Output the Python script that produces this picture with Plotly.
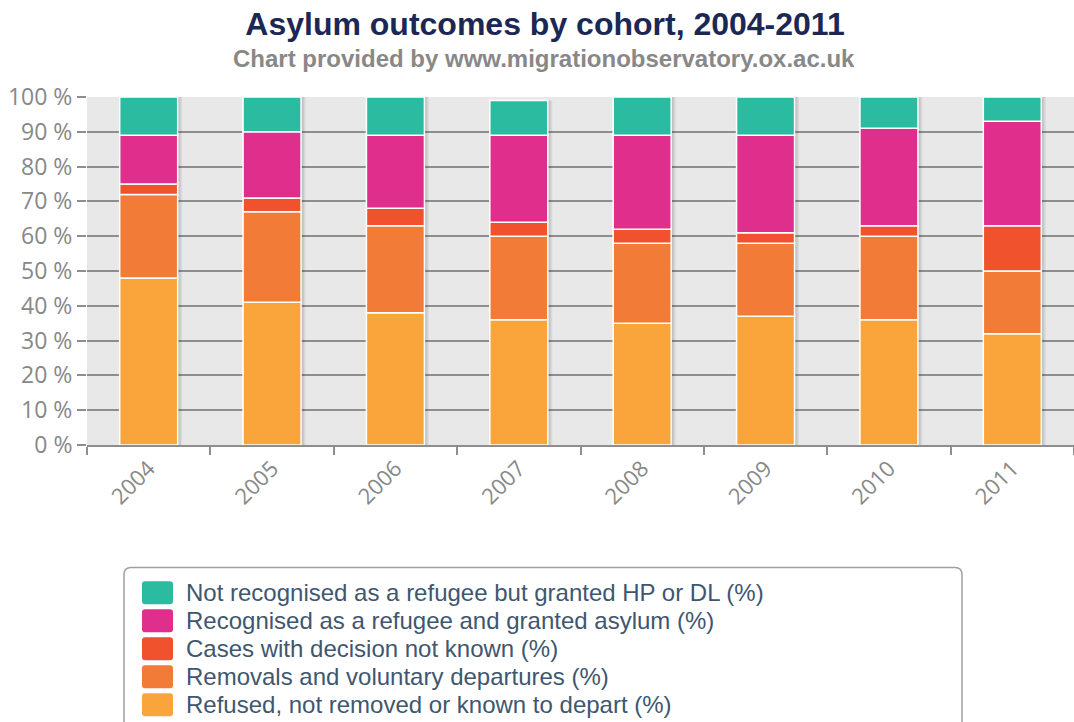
import plotly.graph_objects as go

# ---------------- data ----------------
years = ["2004", "2005", "2006", "2007", "2008", "2009", "2010", "2011"]
refused = [48, 41, 38, 36, 35, 37, 36, 32]
removals = [24, 26, 25, 24, 23, 21, 24, 18]
not_known = [3, 4, 5, 4, 4, 3, 3, 13]
recognised = [14, 19, 21, 25, 27, 28, 28, 30]
hp_dl = [11, 10, 11, 10, 11, 11, 9, 7]

series_names = [
    "Refused, not removed or known to depart (%)",
    "Removals and voluntary departures (%)",
    "Cases with decision not known (%)",
    "Recognised as a refugee and granted asylum (%)",
    "Not recognised as a refugee but granted HP or DL (%)",
]
series_values = [refused, removals, not_known, recognised, hp_dl]
series_colors = ["#f9a53b", "#f17b37", "#ef522d", "#e02e8c", "#2bbba0"]

# ---------------- layout helpers ----------------
W, H = 1074, 722
L, R, T, B = 87, 0, 97, 277
PW, PH = W - L - R, H - T - B
CAT_PX = PW / len(years)
BAR_W = 0.47


def pxx(x):
    return (x - L) / PW


def pxy(y):
    return (H - B - y) / PH


def rrect(x0, y0, x1, y1, r):
    pts = [
        ("M", [(x0 + r, y0)]),
        ("L", [(x1 - r, y0)]),
        ("Q", [(x1, y0), (x1, y0 + r)]),
        ("L", [(x1, y1 - r)]),
        ("Q", [(x1, y1), (x1 - r, y1)]),
        ("L", [(x0 + r, y1)]),
        ("Q", [(x0, y1), (x0, y1 - r)]),
        ("L", [(x0, y0 + r)]),
        ("Q", [(x0, y0), (x0 + r, y0)]),
    ]
    s = ""
    for cmd, ps in pts:
        s += cmd + " " + " ".join(f"{pxx(a):.5f},{pxy(b):.5f}" for a, b in ps) + " "
    return s + "Z"


# cumulative bases for the stack
bases = []
running = [0] * len(years)
for vals in series_values:
    bases.append(list(running))
    running = [a + b for a, b in zip(running, vals)]
totals = running

fig = go.Figure()

# soft drop shadow to the right of each column
for shift, alpha in [(1.5, 0.07), (3.0, 0.07), (4.5, 0.06)]:
    fig.add_trace(go.Bar(
        x=years, y=totals,
        width=BAR_W, offset=-BAR_W / 2 + shift / CAT_PX,
        marker=dict(color=f"rgba(0,0,0,{alpha})", line=dict(width=0)),
        showlegend=False, hoverinfo="skip",
    ))

for name, vals, base, col in zip(series_names, series_values, bases, series_colors):
    fig.add_trace(go.Bar(
        x=years, y=vals, base=base, name=name,
        marker=dict(color=col, line=dict(color="white", width=1.5)),
        width=BAR_W, showlegend=False,
        hovertemplate="%{x}: %{y} %<extra>" + name + "</extra>",
    ))

grid = "#8e8e8e"
fig.update_layout(
    width=W, height=H,
    margin=dict(l=L, r=R, t=T, b=B, pad=0),
    paper_bgcolor="white", plot_bgcolor="#e8e8e8",
    barmode="overlay",
    title=dict(
        text="<b>Asylum outcomes by cohort, 2004-2011</b>",
        x=545 / W, xref="container", xanchor="center",
        y=1 - 24 / H, yref="container", yanchor="middle",
        font=dict(family="Liberation Sans", size=32, color="#1c2755"),
    ),
    xaxis=dict(
        type="category", range=[-0.5, 7.5],
        tickangle=-45, tickson="boundaries",
        ticks="outside", ticklen=8, tickwidth=2, tickcolor=grid,
        showline=True, linecolor=grid, linewidth=2,
        showgrid=False,
        tickfont=dict(family="Open Sans", size=22, color="#888888"),
    ),
    yaxis=dict(
        range=[0, 100], dtick=10, ticksuffix=" %",
        showgrid=True, gridcolor=grid, gridwidth=2,
        ticks="outside", ticklen=9, tickwidth=2, tickcolor=grid,
        zeroline=False, showline=False,
        tickfont=dict(family="Open Sans", size=23, color="#888888"),
    ),
)

annotations = [dict(
    text="<b>Chart provided by www.migrationobservatory.ox.ac.uk</b>",
    xref="paper", yref="paper", x=pxx(544), y=pxy(58),
    xanchor="center", yanchor="middle", showarrow=False,
    font=dict(family="Liberation Sans", size=24, color="#888888"),
)]
shapes = [dict(
    type="path", xref="paper", yref="paper",
    path=rrect(124, 567.5, 962, 745, 7),
    line=dict(color="#a0a0a0", width=1.5), fillcolor="rgba(0,0,0,0)",
    layer="above",
)]

# legend (top item = top of the stack)
first_center = 592.7
step = 28
for i, idx in enumerate(reversed(range(len(series_names)))):
    cy = first_center + i * step
    shapes.append(dict(
        type="path", xref="paper", yref="paper",
        path=rrect(142, cy - 11.5, 173, cy + 11.5, 3),
        line=dict(width=0), fillcolor=series_colors[idx], layer="above",
    ))
    annotations.append(dict(
        text=series_names[idx], xref="paper", yref="paper",
        x=pxx(184), y=pxy(cy), xanchor="left", yanchor="middle",
        showarrow=False,
        font=dict(family="Liberation Sans", size=24, color="#3e576f"),
    ))

fig.update_layout(annotations=annotations, shapes=shapes)
fig.write_html("out.html")
